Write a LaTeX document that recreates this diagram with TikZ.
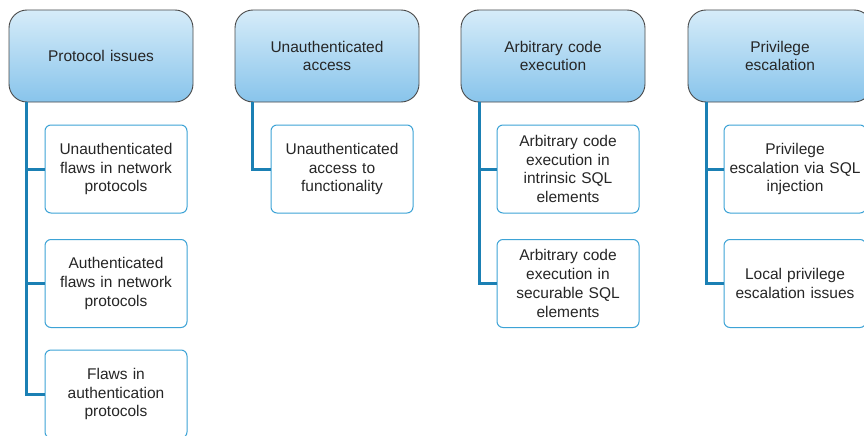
\documentclass[tikz,border=0pt]{standalone}
\usepackage{fontspec}
\setmainfont{Liberation Sans}
\usetikzlibrary{shadings}
\definecolor{hdtop}{HTML}{D6ECF9}
\definecolor{hdbot}{HTML}{88C4EB}
\definecolor{hdline}{HTML}{4A4A4A}
\definecolor{wire}{HTML}{1B80B4}
\definecolor{leafline}{HTML}{3DA3D6}
\definecolor{txt}{HTML}{262626}
\begin{document}
\begin{tikzpicture}[x=1pt,y=-1pt,
  header/.style={draw=hdline, line width=0.9pt, rounded corners=18pt,
    top color=hdtop, bottom color=hdbot, minimum width=184pt, minimum height=92pt,
    text width=170pt, align=center, font=\fontsize{15.5}{18.7}\selectfont, text=txt, inner sep=0pt},
  leaf/.style={draw=leafline, line width=1pt, rounded corners=6pt, fill=white,
    minimum width=142pt, minimum height=88pt, text width=134pt, align=center,
    font=\fontsize{15.5}{18.7}\selectfont, text=txt, inner sep=0pt},
  wirestyle/.style={draw=wire, line width=3pt}
]
\useasboundingbox (0,0) rectangle (864,436);
\fill[white] (0,0) rectangle (864,436);

% top-level categories
\node[header] (h1) at (101,56) {Protocol issues};
\node[header] (h2) at (327,56) {Unauthenticated\\access};
\node[header] (h3) at (553,56) {Arbitrary code\\execution};
\node[header] (h4) at (780,56) {Privilege\\escalation};

% sub-items
\node[leaf] (a1) at (116,169) {Unauthenticated\\flaws in network\\protocols};
\node[leaf] (a2) at (116,283.5) {Authenticated\\flaws in network\\protocols};
\node[leaf] (a3) at (116,394) {Flaws in\\authentication\\protocols};
\node[leaf] (b1) at (342,169) {Unauthenticated\\access to\\functionality};
\node[leaf] (c1) at (568,169) {Arbitrary code\\execution in\\intrinsic SQL\\elements};
\node[leaf] (c2) at (568,283.5) {Arbitrary code\\execution in\\securable SQL\\elements};
\node[leaf] (d1) at (795,169) {Privilege\\escalation via SQL\\injection};
\node[leaf] (d2) at (795,283.5) {Local privilege\\escalation issues};

% tree connectors
\foreach \h/\x/\leaves in {h1/26/{a1,a2,a3}, h2/252/{b1}, h3/479/{c1,c2}, h4/706/{d1,d2}}{
  \foreach \l in \leaves {
    \draw[wirestyle, line join=miter] (\x,0 |- \h.south) -- (\x,0 |- \l.west) -- (\l.west);
  }
}
\end{tikzpicture}
\end{document}
